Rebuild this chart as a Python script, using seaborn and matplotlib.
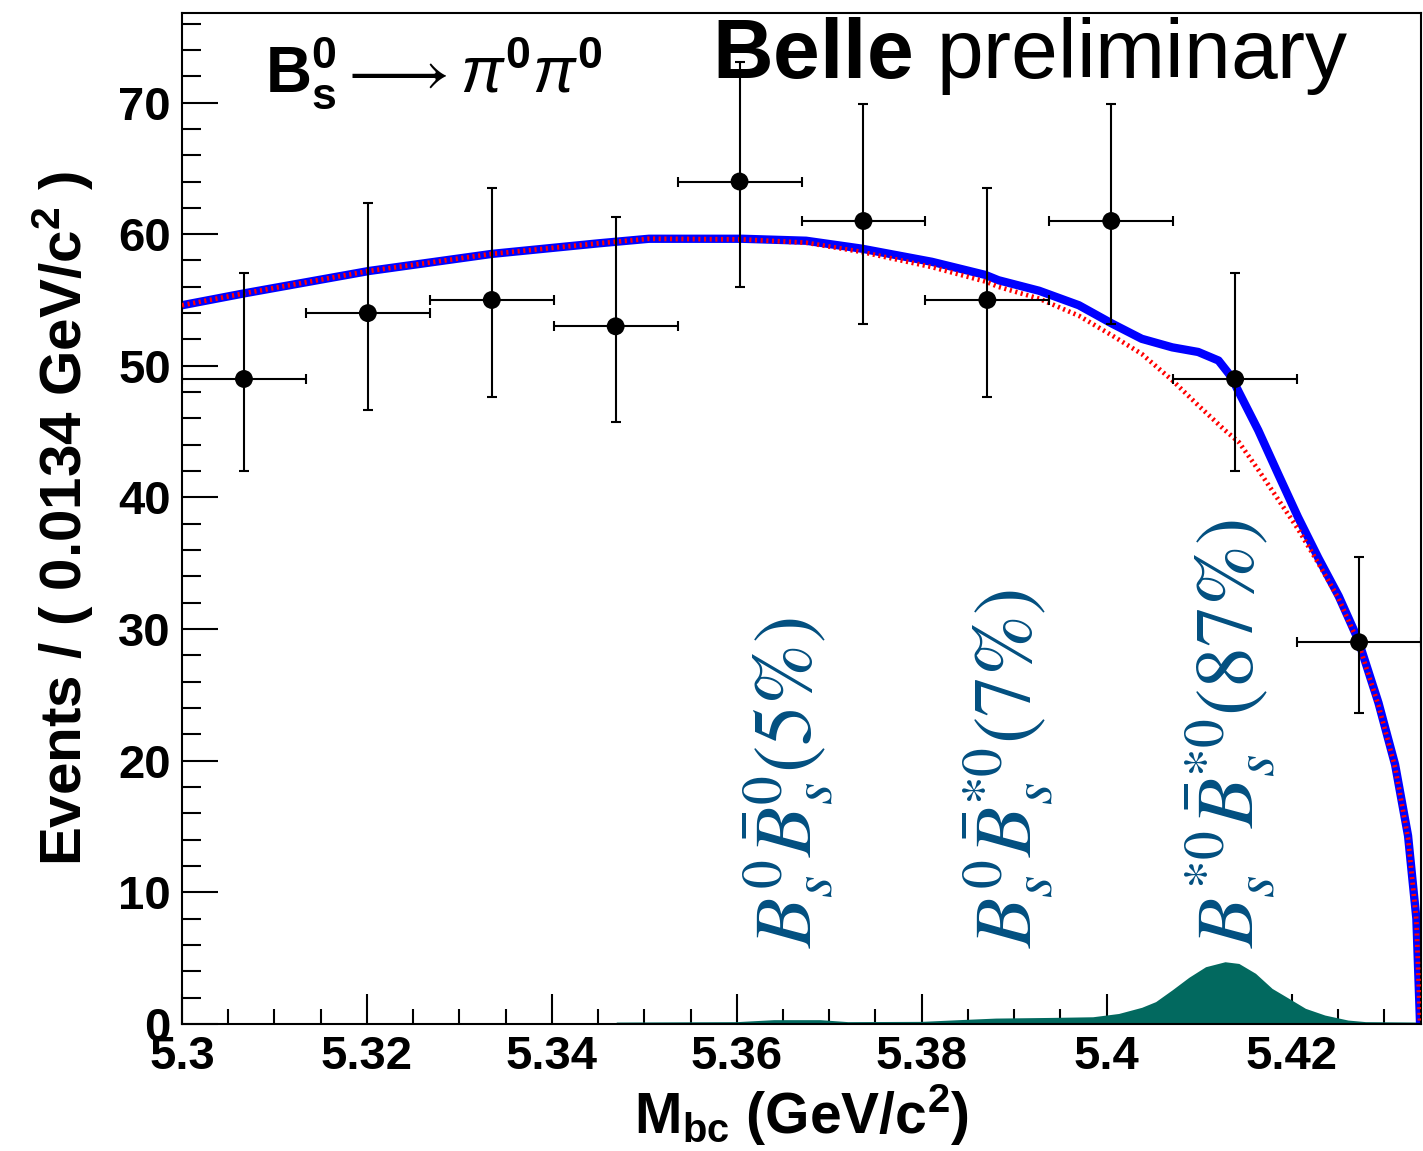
import matplotlib
matplotlib.use("Agg")
import matplotlib.pyplot as plt
from matplotlib.ticker import FixedLocator, MultipleLocator
import numpy as np
import pandas as pd
import seaborn as sns

# ---- binned data (bin width 0.0134 GeV/c^2) ----
bin_centers = [5.3067, 5.3201, 5.3335, 5.3469, 5.3603, 5.3737, 5.3871, 5.4005, 5.4139, 5.4273]
counts = [49, 54, 55, 53, 64, 61, 55, 61, 49, 29]
err_low = [6.98, 7.33, 7.40, 7.26, 7.98, 7.79, 7.40, 7.79, 6.98, 5.37]
err_high = [8.05, 8.40, 8.47, 8.33, 9.06, 8.87, 8.47, 8.87, 8.05, 6.44]
bin_half_width = 0.0067

# ---- total fit curve ----
total_x = [5.3000, 5.3067, 5.3202, 5.3335, 5.3450, 5.3505, 5.3606, 5.3675, 5.3735,
           5.3811, 5.3869, 5.3883, 5.3927, 5.3970, 5.4006, 5.4038, 5.4071, 5.4099,
           5.4121, 5.4135, 5.4143, 5.4164, 5.4186, 5.4207, 5.4229, 5.4251, 5.4272,
           5.4294, 5.4312, 5.4326, 5.4335, 5.4339]
total_y = [54.6, 55.5, 57.2, 58.5, 59.3, 59.65, 59.65, 59.5, 58.9,
           57.9, 56.9, 56.5, 55.7, 54.6, 53.2, 52.05, 51.4, 51.05,
           50.4, 49.15, 48.0, 45.1, 41.7, 38.5, 35.4, 32.5, 29.2,
           24.4, 19.7, 14.3, 8.0, 0.0]

# ---- background (continuum) curve ----
bkg_x = [5.3000, 5.3067, 5.3202, 5.3335, 5.3450, 5.3505, 5.3606, 5.3675, 5.3735,
         5.3811, 5.3869, 5.3883, 5.3927, 5.3970, 5.4006, 5.4038, 5.4071, 5.4099,
         5.4128, 5.4143, 5.4164, 5.4186, 5.4207, 5.4229, 5.4251, 5.4272, 5.4294,
         5.4312, 5.4326, 5.4335, 5.4339]
bkg_y = [54.6, 55.5, 57.2, 58.5, 59.3, 59.65, 59.6, 59.35, 58.65,
         57.5, 56.4, 56.0, 55.1, 53.8, 52.3, 50.9, 48.9, 47.0,
         45.1, 44.2, 42.1, 39.8, 37.6, 35.0, 32.3, 29.0, 24.2,
         19.5, 14.1, 7.9, 0.0]

# ---- signal component ----
sig_x = [5.3467, 5.3470, 5.3600, 5.3640, 5.3690, 5.3720, 5.3800, 5.3840, 5.3880,
         5.3940, 5.3985, 5.4013, 5.4038, 5.4053, 5.4071, 5.4089, 5.4107, 5.4128,
         5.4143, 5.4161, 5.4179, 5.4197, 5.4215, 5.4236, 5.4261, 5.4280, 5.4335, 5.4338]
sig_y = [0.0, 0.15, 0.18, 0.33, 0.33, 0.18, 0.20, 0.33, 0.45,
         0.50, 0.55, 0.80, 1.27, 1.70, 2.60, 3.55, 4.35, 4.73,
         4.60, 3.85, 2.70, 1.95, 1.19, 0.68, 0.30, 0.18, 0.15, 0.0]

x_tick_values = [5.30, 5.32, 5.34, 5.36, 5.38, 5.40, 5.42]
x_tick_labels = ["5.3", "5.32", "5.34", "5.36", "5.38", "5.4", "5.42"]
y_tick_values = [0, 10, 20, 30, 40, 50, 60, 70]

component_labels = [r"$B_s^0\bar{B}_s^0(5\%)$",
                    r"$B_s^0\bar{B}_s^{*0}(7\%)$",
                    r"$B_s^{*0}\bar{B}_s^{*0}(87\%)$"]
component_label_x = [5.3656, 5.3894, 5.4134]

sns.set_theme(style="ticks")
plt.rcParams.update({
    "font.family": ["Liberation Sans", "DejaVu Sans"],
    "mathtext.fontset": "custom",
    "mathtext.rm": "Liberation Sans",
    "mathtext.bf": "Liberation Sans:bold",
    "mathtext.it": "Liberation Sans:italic",
    "mathtext.sf": "Liberation Sans",
    "mathtext.fallback": "stix",
    "axes.linewidth": 1.5,
    "axes.edgecolor": "black",
    "text.color": "black",
    "axes.labelcolor": "black",
    "xtick.color": "black",
    "ytick.color": "black",
})

W, H = 1423, 1151
fig = plt.figure(figsize=(W / 100, H / 100), dpi=100)
ax = fig.add_axes([182 / W, 1 - 1024 / H, (1421 - 182) / W, (1024 - 13) / H])

sig_color = "#02695f"
label_color = "#024f80"

ax.fill_between(sig_x, 0, sig_y, color=sig_color, linewidth=0, zorder=1)

total_df = pd.DataFrame({"x": total_x, "y": total_y})
bkg_df = pd.DataFrame({"x": bkg_x, "y": bkg_y})
sns.lineplot(data=total_df, x="x", y="y", ax=ax, color="#0000ff", linewidth=6,
             sort=False, estimator=None, zorder=2, solid_joinstyle="round")
sns.lineplot(data=bkg_df, x="x", y="y", ax=ax, color="#ff0000", linewidth=3.4,
             sort=False, estimator=None, zorder=3, linestyle=(0, (0.45, 0.75)))

ax.errorbar(bin_centers, counts, yerr=[err_low, err_high], xerr=bin_half_width,
            fmt="none", ecolor="black", elinewidth=1.5, capsize=3.6, capthick=1.5,
            zorder=4)
data_df = pd.DataFrame({"x": bin_centers, "y": counts})
sns.scatterplot(data=data_df, x="x", y="y", ax=ax, color="black", s=165,
                edgecolor="none", zorder=5, legend=False)

for xpos, txt in zip(component_label_x, component_labels):
    ax.text(xpos, 5.8, txt, rotation=90, ha="center", va="bottom",
            color=label_color, fontsize=59, math_fontfamily="stix", zorder=6)

ax.set_xlim(5.3, 5.434)
ax.set_ylim(0, 76.8)

ax.xaxis.set_major_locator(FixedLocator(x_tick_values))
ax.set_xticklabels(x_tick_labels)
ax.xaxis.set_minor_locator(MultipleLocator(0.005))
ax.yaxis.set_major_locator(FixedLocator(y_tick_values))
ax.yaxis.set_minor_locator(MultipleLocator(2))

ax.tick_params(axis="both", which="both", direction="in", top=False, right=False,
               width=1.5, colors="black", labelsize=34)
ax.tick_params(axis="x", which="major", length=21.6, pad=8)
ax.tick_params(axis="x", which="minor", length=10.8)
ax.tick_params(axis="y", which="major", length=26, pad=8)
ax.tick_params(axis="y", which="minor", length=14)
for lbl in ax.get_xticklabels() + ax.get_yticklabels():
    lbl.set_fontweight("bold")

for side in ["top", "right", "left", "bottom"]:
    ax.spines[side].set_visible(True)
    ax.spines[side].set_linewidth(1.5)
    ax.spines[side].set_color("black")

ax.set_xlabel(r"$\mathbf{M}_{\mathbf{bc}}$ (GeV/c$^{\mathbf{2}}$)", fontsize=41,
              fontweight="bold", labelpad=2)
ax.set_ylabel(r"Events / ( 0.0134 GeV/c$^{\mathbf{2}}$ )", fontsize=42,
              fontweight="bold", labelpad=16)

ax.text(0.067, 0.922,
        r"$\mathbf{B}_{\mathbf{s}}^{\mathbf{0}}\longrightarrow\pi^{\mathbf{0}}\pi^{\mathbf{0}}$",
        transform=ax.transAxes, ha="left", va="baseline", fontsize=46)
ax.text(0.4278, 0.9357, r"$\mathbf{Belle}$ preliminary", transform=ax.transAxes,
        ha="left", va="baseline", fontsize=60.5)

fig.savefig("out.png", dpi=100)
